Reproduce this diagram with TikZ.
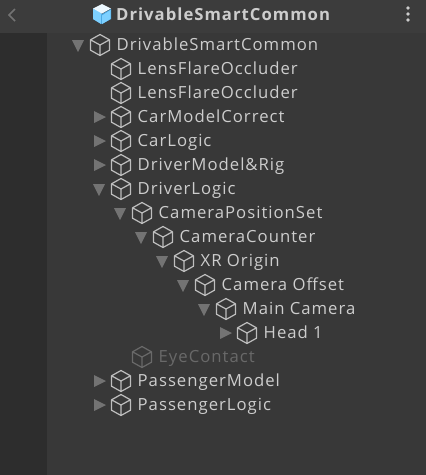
\documentclass[tikz,border=0pt]{standalone}
\usepackage{fontspec}
\setmainfont{Open Sans}
\newfontfamily\rowfont[LetterSpace=6]{Open Sans}
\newfontfamily\headfont[LetterSpace=6]{Open Sans}
\usepackage{tikz}
\usetikzlibrary{shapes.geometric, positioning, calc}
\definecolor{panelmain}{RGB}{56,56,56}
\definecolor{paneldark}{RGB}{45,45,45}
\definecolor{panelhead}{RGB}{60,60,60}
\definecolor{rowtext}{RGB}{205,205,205}
\definecolor{cubeline}{RGB}{190,190,190}
\definecolor{dimtext}{RGB}{105,105,105}
\definecolor{foldtri}{RGB}{115,115,115}
\definecolor{prefabblue}{RGB}{125,208,255}
\definecolor{prefabdark}{RGB}{70,165,225}

\tikzset{
  rowlabel/.style={anchor=base west, inner sep=0pt, text=rowtext, font=\fontsize{16.7}{18}\rowfont},
  dimlabel/.style={rowlabel, text=dimtext},
  headlabel/.style={anchor=base west, inner sep=0pt, text=rowtext, font=\fontsize{16.7}{18}\headfont\bfseries},
  pics/cubeicon/.style={code={
    \draw[line width=1.2pt, line join=round, #1]
      (0,-10.5) -- (9.5,-5.2) -- (9.5,5.2) -- (0,10.5) -- (-9.5,5.2) -- (-9.5,-5.2) -- cycle
      (-9.5,-5.2) -- (0,0) -- (9.5,-5.2) (0,0) -- (0,10.5);
  }},
  pics/cubeicon/.default=cubeline
}

\begin{document}
\begin{tikzpicture}[x=1pt, y=-1pt]
\useasboundingbox (0,0) rectangle (426,475);

% Panels
\fill[panelmain] (0,0) rectangle (426,475);
\fill[paneldark] (0,33) rectangle (47,475);
\fill[panelhead] (0,0) rectangle (426,33);

% Header
\draw[foldtri, line width=1.6pt] (15,9) -- (9,15) -- (15,21);
\fill[prefabdark] (102,14) -- (111,9) -- (111,19) -- (102,24) -- (93,19) -- (93,9) -- cycle;
\fill[prefabblue] (102,15.5) -- (110.5,10) -- (110.5,19) -- (102,24) -- cycle;
\fill[prefabblue] (102,12.5) -- (93,8.5) -- (93,19) -- (101,24) -- (101,15) -- cycle;
\fill[white!85!prefabblue] (102,4) -- (111,8.5) -- (102,13.5) -- (93,8.5) -- cycle;
\node[headlabel] (title) at (116,20.5) {DrivableSmartCommon};
\foreach \dotrow in {8,14,20}
  \fill[rowtext] (408,\dotrow) circle (1.9);

% Rows: row / indent / label
\foreach \row/\lev/\name in {
  0/0/DrivableSmartCommon, 1/1/LensFlareOccluder, 2/1/LensFlareOccluder,
  3/1/CarModelCorrect, 4/1/CarLogic, 5/1/DriverModel\&Rig, 6/1/DriverLogic,
  7/2/CameraPositionSet, 8/3/CameraCounter, 9/4/XR Origin, 10/5/Camera Offset,
  11/6/Main Camera, 12/7/Head 1, 14/1/PassengerModel, 15/1/PassengerLogic} {
  \pic at ({100+21*\lev},{45+24*\row}) {cubeicon};
  \node[rowlabel] (row\row) at ({116.5+21*\lev},{50+24*\row}) {\name};
}

% Greyed out row
\pic at (142,357) {cubeicon=dimtext};
\node[dimlabel] (row13) at (158.5,362) {EyeContact};

% Open arrows
\foreach \row/\lev in {0/0, 6/1, 7/2, 8/3, 9/4, 10/5, 11/6}
  \fill[foldtri] ({72+21*\lev},{40+24*\row}) -- ({84+21*\lev},{40+24*\row}) -- ({78+21*\lev},{52+24*\row}) -- cycle;

% Closed arrows
\foreach \row/\lev in {3/1, 4/1, 5/1, 12/7, 14/1, 15/1}
  \fill[foldtri] ({73+21*\lev},{39+24*\row}) -- ({85+21*\lev},{45+24*\row}) -- ({73+21*\lev},{51+24*\row}) -- cycle;

\end{tikzpicture}
\end{document}
